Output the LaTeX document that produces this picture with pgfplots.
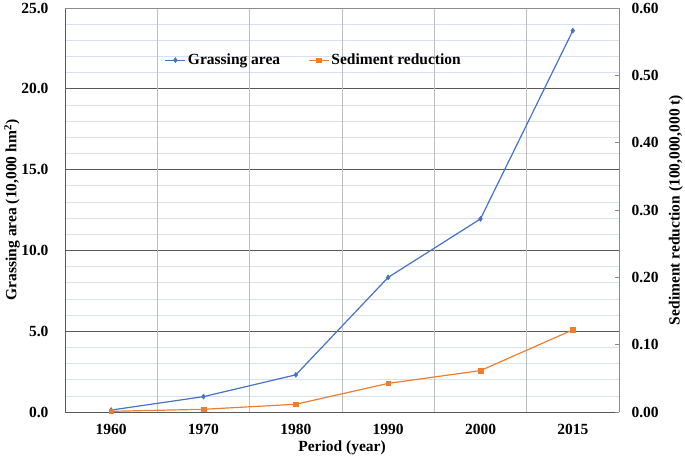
\documentclass[border=0pt]{standalone}
\usepackage{fontspec}
\setmainfont{Liberation Serif}
\usepackage{pgfplots}
\pgfplotsset{compat=1.18}
\definecolor{cblue}{HTML}{4472C4}
\definecolor{corange}{HTML}{ED7D31}
\definecolor{majgrid}{HTML}{595959}
\definecolor{mingrid}{HTML}{D6E0F0}
\definecolor{vgrid}{HTML}{BFBFBF}
\definecolor{frame}{HTML}{8C8C8C}
\newcommand{\bigf}{\fontsize{15.5bp}{18bp}\selectfont\bfseries}
\begin{document}
\begin{tikzpicture}
\begin{axis}[
  name=main,
  scale only axis, width=554bp, height=404bp,
  xmin=-0.5, xmax=5.5, ymin=0, ymax=25,
  xtick={0,1,2,3,4,5},
  xticklabels={1960,1970,1980,1990,2000,2015},
  ytick={0,5,10,15,20,25},
  minor y tick num=4,
  ymajorgrids, yminorgrids,
  major grid style={majgrid, line width=0.6pt},
  minor grid style={mingrid, line width=0.6pt},
  extra x ticks={0.5,1.5,2.5,3.5,4.5},
  extra x tick labels={},
  extra x tick style={grid=major, major grid style={vgrid, line width=0.6pt}, major tick length=0pt},
  axis y line*=left, axis x line*=bottom,
  axis line style={majgrid, line width=0.8pt},
  major tick length=0pt, minor tick length=0pt,
  /pgf/number format/assume math mode=true,
  yticklabel style={/pgf/number format/fixed, /pgf/number format/fixed zerofill, /pgf/number format/precision=1},
  tick label style={font=\bigf},
  xticklabel style={yshift=-9bp},
  yticklabel style={xshift=-13bp},
  xlabel={Period (year)},
  ylabel={Grassing area (10,000 hm\textsuperscript{2})},
  label style={font=\bigf},
  xlabel style={at={(axis description cs:0.5,0)}, anchor=center, yshift=-36bp},
  ylabel style={at={(axis description cs:0,0.5)}, anchor=center, yshift=53bp, inner sep=0pt},
  legend style={draw=none, fill=none, at={(0.449,0.871)}, anchor=center,
    legend columns=2, font=\bigf,
    /tikz/every even column/.append style={column sep=26bp}},
  legend image code/.code={\draw[mark repeat=2,mark phase=2] plot coordinates {(0bp,0bp) (10bp,0bp) (20bp,0bp)};},
  legend cell align=left,
]
\addplot[cblue, line width=1.2pt, mark=diamond*, mark size=2.5pt, mark options={fill=cblue, line width=0.5pt}]
  coordinates {(0,0.12) (1,0.95) (2,2.3) (3,8.33) (4,11.95) (5,23.6)};
\addlegendentry{Grassing area}
\addlegendimage{corange, line width=1.2pt, mark=square*, mark size=2.3pt, mark options={fill=corange, line width=0.5pt}}
\addlegendentry{Sediment reduction}
\end{axis}
\begin{axis}[
  scale only axis, width=554bp, height=404bp,
  xmin=-0.5, xmax=5.5, ymin=0, ymax=0.6,
  axis x line*=top, xtick=\empty,
  axis y line*=right,
  axis line style={frame, line width=0.8pt},
  ytick={0,0.1,0.2,0.3,0.4,0.5,0.6},
  ytick style={frame, line width=0.6pt},
  major tick length=4bp,
  /pgf/number format/assume math mode=true,
  yticklabel style={/pgf/number format/fixed, /pgf/number format/fixed zerofill, /pgf/number format/precision=2},
  tick label style={font=\bigf},
  yticklabel style={xshift=9bp},
  ylabel={Sediment reduction (100,000,000 t)},
  label style={font=\bigf},
  ylabel style={at={(axis description cs:1,0.5)}, anchor=center, yshift=-57bp, inner sep=0pt},
]
\addplot[corange, line width=1.2pt, mark=square*, mark size=2.3pt, mark options={fill=corange, line width=0.5pt}]
  coordinates {(0,0.001) (1,0.004) (2,0.0115) (3,0.0425) (4,0.0615) (5,0.122)};
\end{axis}
\pgfresetboundingbox
\path ([shift={(-65bp,-50bp)}]main.south west) rectangle ([shift={(66bp,8bp)}]main.north east);
\end{tikzpicture}
\end{document}
